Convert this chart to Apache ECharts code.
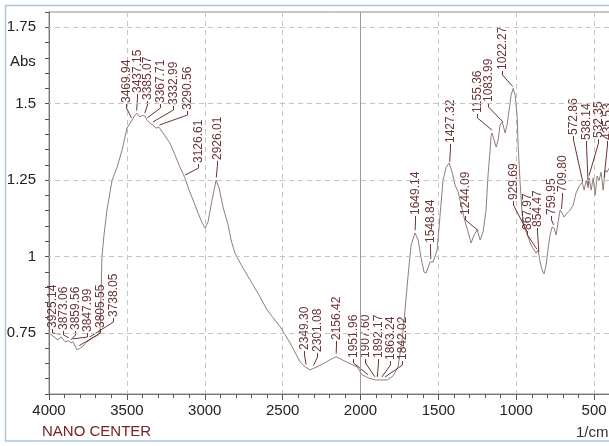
<!DOCTYPE html>
<html>
<head>
<meta charset="utf-8">
<script src="https://cdn.jsdelivr.net/npm/echarts@6/dist/echarts.min.js"></script>
<style>
html,body{margin:0;padding:0;background:#fff;}
#chart{width:609px;height:446px;}
</style>
</head>
<body>
<div id="chart"></div>
<script>
// ---- data ----
const waveNumbers = [4000,3961,3942,3923,3897,3872,3859,3846,3820,3788,3756,3717,3685,3672,3660,3647,3628,3595,3563,3531,3499,3467,3448,3435,3416,3403,3383,3371,3351,3332,3313,3294,3268,3223,3191,3159,3127,3101,3075,3043,3017,2998,2979,2953,2927,2908,2883,2850,2831,2806,2773,2709,2645,2600,2516,2452,2388,2356,2324,2292,2240,2195,2157,2118,2067,2022,1990,1951,1906,1874,1829,1791,1759,1733,1714,1694,1675,1650,1630,1611,1592,1579,1553,1534,1508,1489,1470,1450,1431,1412,1393,1373,1354,1328,1309,1290,1271,1251,1232,1213,1194,1181,1168,1161,1155,1142,1129,1116,1104,1091,1084,1072,1059,1046,1033,1020,1007,994,988,975,962,949,937,924,905,885,872,860,847,834,821,808,795,783,770,757,744,731,718,705,693,673,654,635,616,596,577,564,551,538,532,519,506,493,481,468,455,442,429,417,404];
const absorbance = [0.750,0.734,0.727,0.737,0.721,0.724,0.717,0.721,0.694,0.704,0.721,0.734,0.743,0.76,0.998,1.07,1.152,1.25,1.292,1.348,1.42,1.446,1.462,1.469,1.456,1.462,1.459,1.446,1.436,1.43,1.42,1.423,1.404,1.371,1.332,1.292,1.257,1.217,1.185,1.142,1.11,1.093,1.113,1.185,1.25,1.224,1.162,1.103,1.054,1.011,0.979,0.923,0.868,0.825,0.77,0.717,0.655,0.639,0.629,0.636,0.649,0.662,0.672,0.662,0.649,0.639,0.613,0.603,0.596,0.596,0.596,0.609,0.639,0.727,0.825,0.94,1.038,1.077,1.054,0.995,0.949,0.946,0.982,0.982,1.021,1.136,1.25,1.292,1.306,1.276,1.234,1.211,1.168,1.113,1.08,1.044,1.07,1.087,1.054,1.08,1.152,1.266,1.348,1.397,1.404,1.381,1.358,1.381,1.43,1.44,1.43,1.404,1.43,1.479,1.528,1.55,1.528,1.456,1.364,1.24,1.136,1.096,1.08,1.064,1.038,1.021,1.011,1.021,0.982,0.956,0.943,0.972,1.028,1.07,1.096,1.093,1.07,1.113,1.152,1.142,1.129,1.142,1.152,1.168,1.208,1.23,1.243,1.217,1.25,1.224,1.257,1.217,1.257,1.201,1.263,1.25,1.276,1.217,1.283,1.276,1.289];

const peakLabels = ['3925.14','3873.06','3859.56','3847.99','3805.55','3738.05','3469.94','3437.15','3385.07','3367.71','3332.99','3290.56','3126.61','2926.01','2349.30','2301.08','2156.42','1951.96','1907.60','1892.17','1863.24','1842.02','1649.14','1548.84','1427.32','1244.09','1155.36','1083.99','1022.27','929.69','867.97','854.47','759.95','709.80','572.86','538.14','532.35','435.53'];
const labelWave = [3981,3910,3833,3756,3672,3589,3506,3435,3371,3287,3204,3114,3043,2921,2362,2279,2157,2048,1971,1887,1810,1733,1650,1553,1425,1328,1251,1181,1091,1020,930,866,776,705,635,551,474,416];
const labelAbs = [0.766,0.76,0.76,0.753,0.766,0.802,1.502,1.534,1.511,1.502,1.495,1.479,1.306,1.315,0.694,0.688,0.727,0.668,0.668,0.668,0.662,0.662,1.136,1.044,1.371,1.136,1.469,1.505,1.609,1.185,1.087,1.096,1.136,1.211,1.397,1.38,1.387,1.38];

const yMajorTicks = [0.75, 1, 1.25, 1.5, 1.75];
const xMarker = 2000;

// ---- helpers ----
function absAt(w){
  for (let i = 0; i < waveNumbers.length - 1; i++) {
    const a = waveNumbers[i], b = waveNumbers[i+1];
    if (w <= a && w >= b) {
      const t = (a - w) / (a - b);
      return absorbance[i] + t * (absorbance[i+1] - absorbance[i]);
    }
  }
  return absorbance[absorbance.length-1];
}

const lineData = waveNumbers.map((w,i)=>[w, absorbance[i]]);
const labelData = peakLabels.map((t,i)=>[labelWave[i], labelAbs[i], parseFloat(t), i]);

const FONT = '"Liberation Sans", Arial, sans-serif';
const LBL = '#6b3535';

const chart = echarts.init(document.getElementById('chart'), null, {renderer:'canvas'});
chart.setOption({
  animation: false,
  backgroundColor: '#fff',
  grid: {left: 49, top: 12, right: -63, bottom: 52, show: true, borderColor: '#8c8c8c', borderWidth: 1, containLabel: false, outerBoundsMode: 'none'},
  xAxis: {
    type: 'value', inverse: true, min: 0, max: 4000, interval: 500,
    axisLine: {show: true, onZero: false, lineStyle: {color: '#777', width: 1}},
    axisTick: {show: true, length: 6, lineStyle: {color: '#555'}},
    minorTick: {show: true, splitNumber: 5, length: 4, lineStyle: {color: '#555'}},
    axisLabel: {fontSize: 15, color: '#222', fontFamily: FONT, margin: 9, formatter: v => String(v), hideOverlap: false},
    splitLine: {show: true, lineStyle: {color: '#c4c4c4', type: [5,4], width: 1}}
  },
  yAxis: [
    {
      type: 'value', min: 0.55, max: 1.8,
      axisLine: {show: true, lineStyle: {color: '#777', width: 1}},
      axisTick: {show: true, length: 10, customValues: yMajorTicks, lineStyle: {color: '#555'}},
      axisLabel: {customValues: yMajorTicks, fontSize: 15, color: '#222', fontFamily: FONT, margin: 13},
      splitLine: {show: false}
    },
    {
      type: 'value', min: 0.55, max: 1.8, interval: 0.05, position: 'left', offset: 0,
      axisLine: {show: true, lineStyle: {color: '#777', width: 1}},
      axisTick: {show: true, length: 4, lineStyle: {color: '#555'}},
      axisLabel: {show: false},
      splitLine: {show: false}
    }
  ],
  graphic: [
    {type: 'rect', shape: {x: 5.5, y: 5.5, width: 620, height: 435.5}, style: {fill: 'none', stroke: '#a9c5e2', lineWidth: 1.5}, silent: true, z: 100},
    {type: 'text', left: 10, top: 54, style: {text: 'Abs', font: '15px ' + FONT, fill: '#222'}},
    {type: 'text', left: 42, top: 424, style: {text: 'NANO CENTER', font: '15px ' + FONT, fill: '#7a2222'}},
    {type: 'text', left: 576, top: 425, style: {text: '1/cm', font: '15px ' + FONT, fill: '#333'}}
  ],
  series: [
    {
      type: 'line', data: lineData, showSymbol: false, symbol: 'none',
      lineStyle: {color: '#917c7c', width: 1}, silent: true, z: 3,
      markLine: {
        silent: true, symbol: 'none', label: {show: false},
        lineStyle: {color: '#c4c4c4', type: [5,4], width: 1},
        data: yMajorTicks.map(v => ({yAxis: v})).concat([{xAxis: xMarker, lineStyle: {color: '#9a9a9a', type: 'solid', width: 1}}])
      }
    },
    {
      type: 'custom', data: labelData, silent: true, clip: false, z: 4,
      renderItem: function(params, api){
        const p = api.coord([api.value(0), api.value(1)]);
        const w = api.value(2);
        const q = api.coord([w, absAt(w)]);
        const tx = Math.round(p[0]) + 0.5;
        const ty = Math.round(p[1]);
        return {
          type: 'group',
          children: [
            {type: 'polyline', shape: {points: [[tx, ty + 1], [tx, ty + 5], [q[0], q[1] - 3]]}, style: {stroke: LBL, lineWidth: 1, fill: null}},
            {type: 'text', x: tx, y: ty, rotation: Math.PI / 2, style: {text: peakLabels[api.value(3)], font: '12px ' + FONT, fill: LBL, align: 'left', verticalAlign: 'middle'}}
          ]
        };
      }
    }
  ]
});
</script>
</body>
</html>
